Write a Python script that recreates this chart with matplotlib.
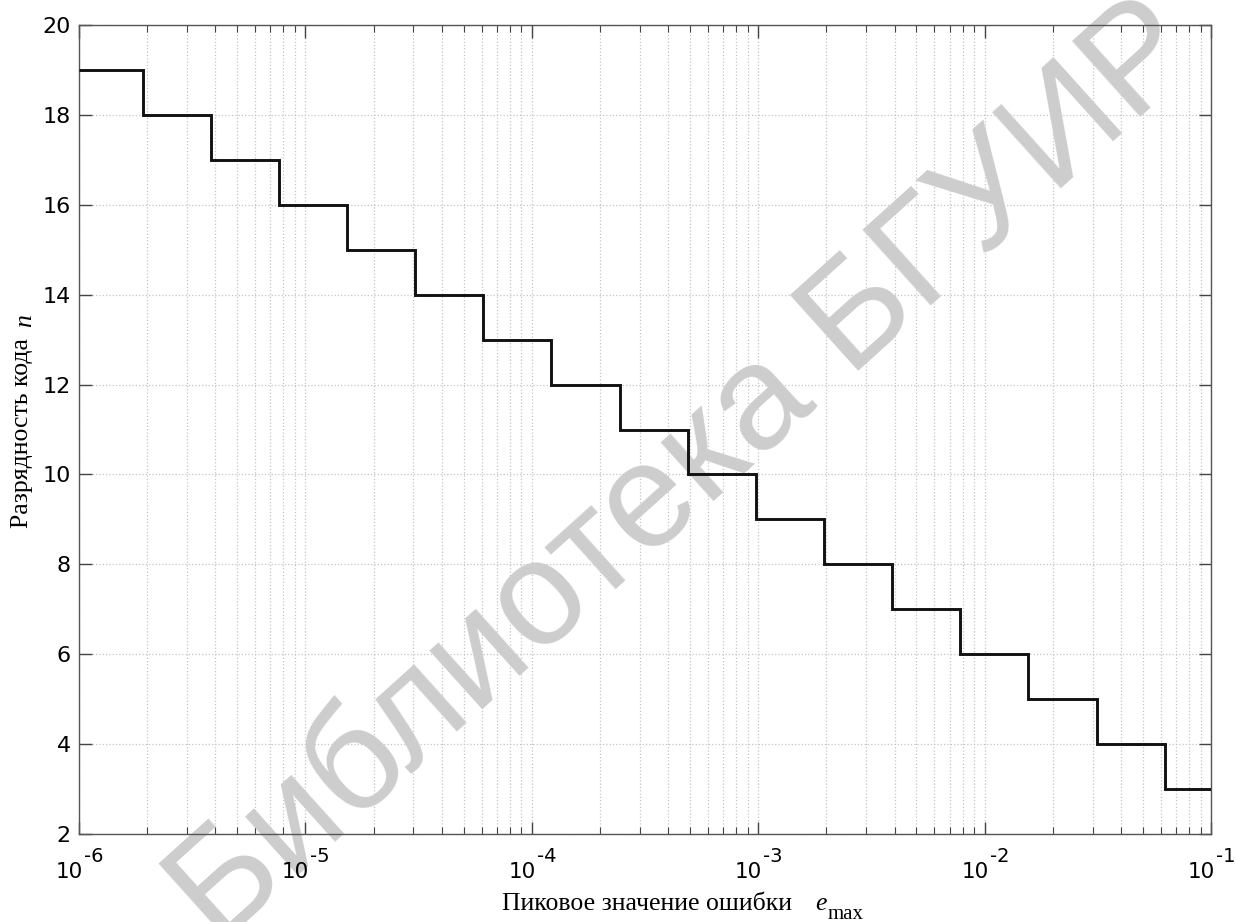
import matplotlib.pyplot as plt
from matplotlib.ticker import LogLocator, FixedLocator

# code width n vs peak error e_max
levels = [19, 18, 17, 16, 15, 14, 13, 12, 11, 10, 9, 8, 7, 6, 5, 4, 3]
edges = [1e-6, 1.91e-6, 3.81e-6, 7.63e-6, 1.53e-5, 3.05e-5, 6.10e-5, 1.22e-4,
         2.44e-4, 4.88e-4, 9.77e-4, 1.95e-3, 3.91e-3, 7.81e-3, 1.56e-2,
         3.13e-2, 6.25e-2, 1e-1]
yticks = [2, 4, 6, 8, 10, 12, 14, 16, 18, 20]
xticks = [1e-6, 1e-5, 1e-4, 1e-3, 1e-2, 1e-1]
xexps = ['-6', '-5', '-4', '-3', '-2', '-1']

W, H = 1235, 922
fig = plt.figure(figsize=(W/100, H/100), dpi=100)
ax = fig.add_axes([79/W, 1 - 834/H, (1211-79)/W, (834-25)/H])

ax.set_xscale('log')
ax.stairs(levels, edges, baseline=None, color='#111111', linewidth=2.1, zorder=3)

ax.set_xlim(1e-6, 1e-1)
ax.set_ylim(2, 20)
ax.xaxis.set_major_locator(FixedLocator(xticks))
ax.xaxis.set_minor_locator(LogLocator(base=10, subs=range(2, 10)))
ax.set_xticks(xticks, ['' for _ in xticks])
ax.set_yticks(yticks)

# x tick labels: "10" with a raised "-k" exponent
for xv, ex in zip(xticks, xexps):
    ax.annotate('10', (xv, 0), xycoords=('data', 'axes fraction'),
                xytext=(4, -44), textcoords='offset pixels',
                ha='right', va='baseline', fontsize=15.5)
    ax.annotate(ex, (xv, 0), xycoords=('data', 'axes fraction'),
                xytext=(5, -28), textcoords='offset pixels',
                ha='left', va='baseline', fontsize=14)

ax.grid(True, which='major', linestyle=':', color='#c4c4c4', linewidth=0.9, zorder=0)
ax.grid(True, which='minor', axis='x', linestyle=':', color='#c4c4c4', linewidth=0.9, zorder=0)
ax.set_axisbelow(True)

ax.tick_params(which='both', direction='in', top=True, right=True, colors='#444444',
               labelcolor='black', labelsize=16)
ax.tick_params(which='major', length=9, width=1.0)
ax.tick_params(which='minor', length=5, width=0.8)
ax.tick_params(axis='y', which='major', pad=6)
for s in ax.spines.values():
    s.set_color('#555555')
    s.set_linewidth(1.0)

# axis labels (serif, italic variable names)
fig.text(792/W, 1 - 910/H, 'Пиковое значение ошибки', family='Liberation Serif',
         fontsize=18.5, ha='right', va='baseline')
fig.text(815/W, 1 - 910/H, 'e', family='Liberation Serif', style='italic',
         fontsize=18.5, ha='left', va='baseline')
fig.text(828/W, 1 - 919/H, 'max', family='Liberation Serif',
         fontsize=15, ha='left', va='baseline')
fig.text(28/W, 1 - 433/H, 'Разрядность кода', family='Liberation Serif',
         fontsize=18.5, rotation=90, rotation_mode='anchor', ha='center', va='baseline')
fig.text(31/W, 1 - 327/H, 'n', family='Liberation Serif', style='italic',
         fontsize=18.5, rotation=90, rotation_mode='anchor', ha='left', va='baseline')

# watermark
ax.text(686/W, 1 - 474/H, 'Библиотека БГУИР', transform=fig.transFigure,
        family='Liberation Sans', fontsize=107, color='#cdcdcd',
        rotation=42, rotation_mode='anchor', ha='center', va='center',
        zorder=2, clip_on=False)

fig.savefig('out.png', dpi=100)
